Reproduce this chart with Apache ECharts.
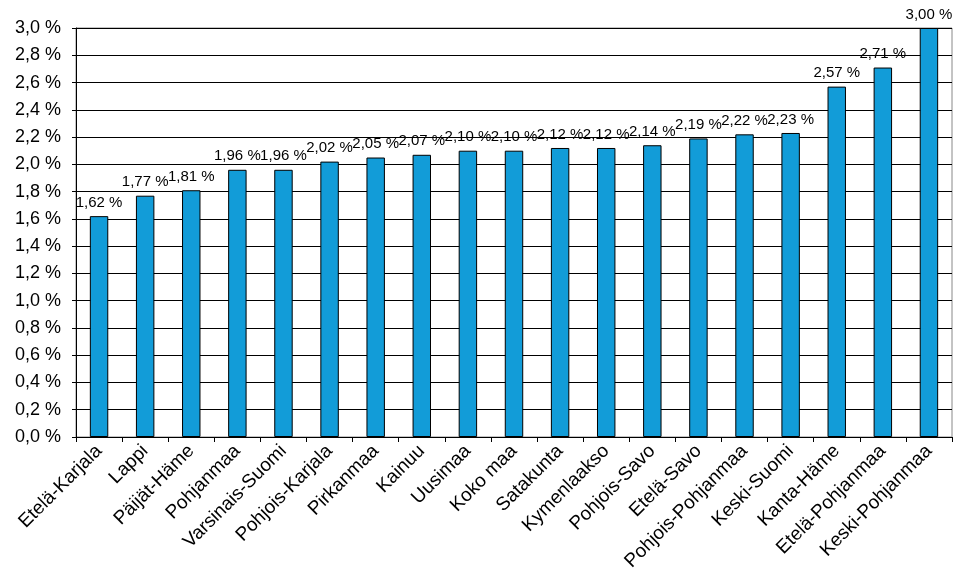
<!DOCTYPE html>
<html><head><meta charset="utf-8">
<script src="https://cdn.jsdelivr.net/npm/echarts@6/dist/echarts.min.js"></script>
<style>html,body{margin:0;padding:0;background:#fff}#c{width:966px;height:587px}</style>
</head><body><div id="c"></div>
<script>
const categories = ["Etelä-Karjala","Lappi","Päijät-Häme","Pohjanmaa","Varsinais-Suomi","Pohjois-Karjala","Pirkanmaa","Kainuu","Uusimaa","Koko maa","Satakunta","Kymenlaakso","Pohjois-Savo","Etelä-Savo","Pohjois-Pohjanmaa","Keski-Suomi","Kanta-Häme","Etelä-Pohjanmaa","Keski-Pohjanmaa"];
const values = [1.62,1.77,1.81,1.96,1.96,2.02,2.05,2.07,2.10,2.10,2.12,2.12,2.14,2.19,2.22,2.23,2.57,2.71,3.00];
const yMin = 0, yMax = 3.0, yStep = 0.2;

const chart = echarts.init(document.getElementById('c'), null, {renderer:'canvas'});
const fmt = (v, d) => v.toFixed(d).replace('.', ',') + ' %';
const ff = 'Liberation Sans, Arial, sans-serif';
chart.setOption({
  animation:false,
  textStyle:{fontFamily:ff},
  grid:{left:76,right:14,top:28,bottom:150,show:true,borderColor:'#888',borderWidth:1,containLabel:false},
  xAxis:{type:'category',data:categories,
    axisLine:{lineStyle:{color:'#000',width:1}},
    axisTick:{show:true,alignWithLabel:false,length:5,lineStyle:{color:'#000'}},
    axisLabel:{rotate:45,color:'#000',fontSize:19,margin:11,interval:0,fontFamily:ff}},
  yAxis:{type:'value',min:yMin,max:yMax,interval:yStep,
    axisLine:{show:true,lineStyle:{color:'#000',width:1}},
    axisTick:{show:true,length:4,lineStyle:{color:'#000'}},
    splitLine:{show:true,lineStyle:{color:'#000',width:1}},
    axisLabel:{color:'#000',fontSize:18,margin:15,formatter:v=>fmt(v,1),fontFamily:ff}},
  series:[{type:'bar',data:values,barWidth:'40%',
    itemStyle:{color:'#129cd8',borderColor:'#000',borderWidth:1},
    label:{show:true,position:'top',color:'#000',fontSize:15,distance:6,formatter:p=>fmt(p.value,2),fontFamily:ff}}]
});
</script></body></html>
